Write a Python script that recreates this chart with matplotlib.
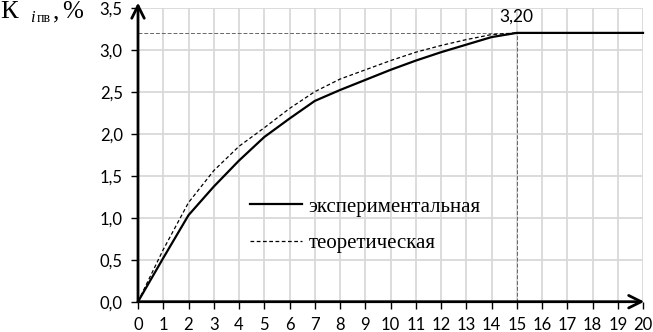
import matplotlib
matplotlib.use("Agg")
import matplotlib.pyplot as plt

# DATA
t = [0, 1, 2, 3, 4, 5, 6, 7, 8, 9, 10, 11, 12, 13, 14, 15, 20]
exper = [0, 0.52, 1.03, 1.37, 1.68, 1.96, 2.18, 2.39, 2.52, 2.64, 2.76, 2.87, 2.97, 3.06, 3.15, 3.20, 3.20]
t_theor = [0, 1, 2, 3, 4, 5, 6, 7, 8, 9, 10, 11, 12, 13, 14, 15]
theor = [0, 0.62, 1.18, 1.56, 1.85, 2.07, 2.30, 2.50, 2.65, 2.76, 2.87, 2.97, 3.05, 3.12, 3.18, 3.20]
x_ticks = list(range(0, 21))
y_ticks = [0.0, 0.5, 1.0, 1.5, 2.0, 2.5, 3.0, 3.5]
y_labels = ["0,0", "0,5", "1,0", "1,5", "2,0", "2,5", "3,0", "3,5"]
k_max = 3.20
t_max = 15
names = ["экспериментальная", "теоретическая"]

W, H = 653, 332
fig = plt.figure(figsize=(W / 100, H / 100), dpi=100)
ax = fig.add_axes([138 / W, 1 - 301.7 / H, 505 / W, 294 / H])

ax.set_xlim(0, 20)
ax.set_ylim(0, 3.5)

# GRID
ax.set_xticks(x_ticks)
ax.set_yticks(y_ticks)
ax.set_yticklabels(y_labels)
ax.grid(True, color="#d9d9d9", lw=1.3)
ax.set_axisbelow(True)
for s in ax.spines.values():
    s.set_visible(False)
ax.tick_params(direction="out", length=5, width=1, color="black",
               labelsize=12, pad=6)
for lab in ax.get_xticklabels() + ax.get_yticklabels():
    lab.set_family("Lato")

# AXIS ARROWS
arr = dict(arrowstyle="->,head_length=0.9,head_width=0.45", lw=2, color="black",
           shrinkA=0, shrinkB=0)
ax.annotate("", xy=(20.05, 0), xytext=(0, 0), arrowprops=arr, annotation_clip=False)
ax.annotate("", xy=(0, 3.56), xytext=(0, 0), arrowprops=arr, annotation_clip=False)

# GUIDE LINES
ax.plot([0, t_max], [k_max, k_max], color="#666666", lw=0.7, ls=(0, (4, 2)))
ax.plot([t_max, t_max], [0, k_max], color="#666666", lw=0.7, ls=(0, (4, 2)))

# CURVES
ax.plot(t, exper, color="black", lw=1.6, label=names[0], clip_on=False)
ax.plot(t_theor, theor, color="black", lw=0.9, ls=(0, (3, 2)), label=names[1])

ax.text(t_max, k_max + 0.1, "3,20", family="Lato", fontsize=12.5,
        ha="center", va="bottom")

leg = ax.legend(loc="upper left", bbox_to_anchor=(250 / W, 1 - 197 / H),
                bbox_transform=fig.transFigure, frameon=False,
                prop={"family": "Liberation Serif", "size": 15},
                handlelength=2.5, handletextpad=0.3, labelspacing=0.8,
                borderpad=0, borderaxespad=0)

# Y LABEL
fig.text(0 / W, 1 - 18 / H, "К", family="Liberation Serif", fontsize=19, va="baseline")
fig.text(30 / W, 1 - 22 / H, "i", family="Liberation Serif", fontsize=12,
         style="italic", va="baseline")
fig.text(37 / W, 1 - 22 / H, "пв", family="Liberation Serif", fontsize=10, va="baseline")
fig.text(53 / W, 1 - 18 / H, ",", family="Liberation Serif", fontsize=18, va="baseline")
fig.text(62 / W, 1 - 18 / H, "%", family="Liberation Serif", fontsize=18, va="baseline")

fig.savefig("out.png", dpi=100)
